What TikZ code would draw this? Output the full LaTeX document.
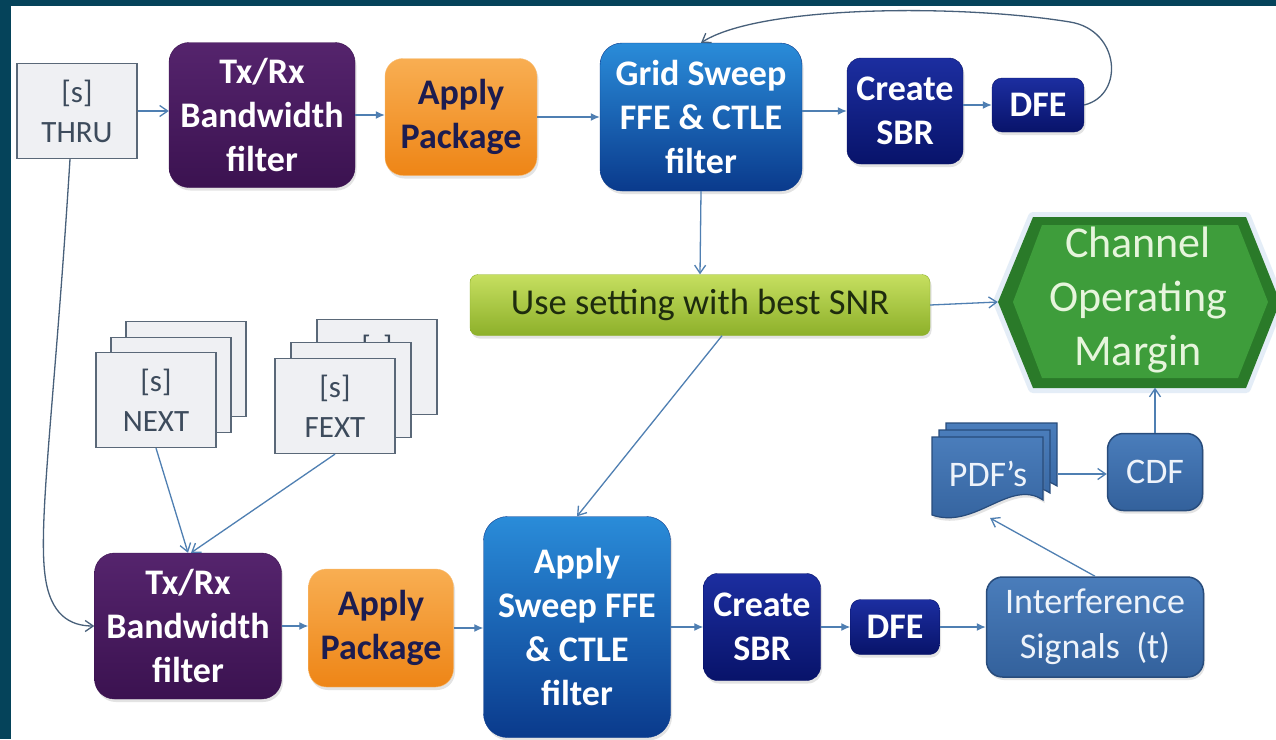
\documentclass[tikz,border=0pt]{standalone}
\usepackage{fontspec}
\setmainfont{Carlito}
\usetikzlibrary{arrows.meta,shadows,calc}

\definecolor{frameteal}{HTML}{05435A}
\definecolor{linkblue}{HTML}{4F7FB2}
\definecolor{linkdark}{HTML}{48607A}
\definecolor{purpleTop}{HTML}{55246D}
\definecolor{purpleBot}{HTML}{3B1250}
\definecolor{orangeTop}{HTML}{F8AE52}
\definecolor{orangeBot}{HTML}{EE8516}
\definecolor{pkgtext}{HTML}{1C1C50}
\definecolor{gridTop}{HTML}{2A8CD9}
\definecolor{gridBot}{HTML}{0A3A8C}
\definecolor{navyTop}{HTML}{1C2EA0}
\definecolor{navyBot}{HTML}{08136A}
\definecolor{steelTop}{HTML}{4A7DBB}
\definecolor{steelBot}{HTML}{33619C}
\definecolor{steelEdge}{HTML}{284C7C}
\definecolor{steeltext}{HTML}{EEF3FA}
\definecolor{limeTop}{HTML}{C6DF60}
\definecolor{limeBot}{HTML}{8DB02A}
\definecolor{limetext}{HTML}{1E2C0E}
\definecolor{comOuter}{HTML}{2A7A29}
\definecolor{comInner}{HTML}{3E9D3B}
\definecolor{comtext}{HTML}{E6F5DC}
\definecolor{comglow}{HTML}{C4D8EE}
\definecolor{cardfill}{HTML}{EFF0F3}
\definecolor{cardedge}{HTML}{5A6878}
\definecolor{cardtext}{HTML}{3D4B5C}

\tikzset{
  boxshadow/.style={drop shadow={shadow xshift=1.5pt,shadow yshift=-3pt,opacity=0.22}},
  blockbase/.style={align=center,inner sep=0pt,boxshadow},
  boldtext/.style={font=\fontsize{36}{44}\selectfont\bfseries},
  purplebox/.style={blockbase,boldtext,rounded corners=20pt,top color=purpleTop,bottom color=purpleBot,draw=purpleBot,text=white},
  orangebox/.style={blockbase,boldtext,rounded corners=18pt,top color=orangeTop,bottom color=orangeBot,draw=orangeTop!80!white,text=pkgtext},
  gridbox/.style={blockbase,boldtext,rounded corners=22pt,top color=gridTop,bottom color=gridBot,draw=gridBot,text=white},
  navybox/.style={blockbase,boldtext,rounded corners=14pt,top color=navyTop,bottom color=navyBot,draw=navyBot,text=white},
  steelbox/.style={blockbase,font=\fontsize{36}{45}\selectfont,rounded corners=16pt,top color=steelTop,bottom color=steelBot,draw=steelEdge,line width=1.5pt,text=steeltext},
  limebox/.style={blockbase,font=\fontsize{36.5}{42}\selectfont,rounded corners=8pt,top color=limeTop,bottom color=limeBot,draw=limeBot,text=limetext},
  cardfont/.style={text=cardtext,font=\fontsize{31}{40}\selectfont},
  card/.style={rectangle,align=center,inner sep=0pt,fill=cardfill,draw=cardedge,line width=1.2pt,cardfont,minimum width=120,minimum height=95},
  openlink/.style={draw=linkblue,line width=1.3pt,-{Straight Barb[length=8pt,width=11pt]}},
  filledlink/.style={draw=linkblue,line width=1.3pt,-{Latex[length=9pt,width=8pt]}},
  darklink/.style={draw=linkdark,line width=1.3pt,-{Straight Barb[length=8pt,width=11pt]}},
  sheet/.style={top color=steelTop,bottom color=steelBot,draw=steelEdge,line width=1.2pt}
}

\begin{document}
\begin{tikzpicture}[x=1pt,y=-1pt]
\useasboundingbox (0,0) rectangle (1276,739);
\fill[white] (0,0) rectangle (1276,739);
% window frame
\fill[frameteal] (0,0) rectangle (1276,6);
\fill[frameteal] (0,0) rectangle (11,739);

% ---------- upper chain ----------
\node[card] (thru) at (77,111) {[s]\\THRU};
\node[purplebox,minimum width=186,minimum height=145] (txrx1) at (262,115) {Tx/Rx\\Bandwidth\\filter};
\node[orangebox,minimum width=152,minimum height=117] (pkg1) at (461,117) {Apply\\Package};
\node[gridbox,minimum width=202,minimum height=148] (grid) at (701,117) {Grid Sweep\\FFE \& CTLE\\filter};
\node[navybox,minimum width=116,minimum height=106] (sbr1) at (905,111) {Create\\SBR};
\node[navybox,rounded corners=10pt,minimum width=92,minimum height=54] (dfe1) at (1038,105) {DFE};

\draw[openlink] (thru.east) -- (thru.east -| txrx1.west);
\draw[filledlink] (txrx1.east) -- (txrx1.east -| pkg1.west);
\draw[filledlink] (pkg1.east) -- (pkg1.east -| grid.west);
\draw[filledlink] (sbr1.west -| grid.east) -- (sbr1.west);
\draw[filledlink] (dfe1.west -| sbr1.east) -- (dfe1.west);
% feedback loop from DFE back to the sweep
\draw[darklink] (dfe1.east) .. controls (1125,95) and (1120,30) .. (1070,22)
  .. controls (960,4) and (760,5) .. (grid.north);

% ---------- best setting ----------
\node[limebox,minimum width=460,minimum height=61] (use) at (700,305) {Use setting with best SNR};
\draw[openlink] (grid.south) -- (use.north);

% ---------- COM hexagon ----------
\node[minimum width=280,minimum height=171,inner sep=0pt] (com) at (1138,302) {};
\path[draw=comglow,line width=10pt,opacity=0.45,line join=round]
  (998,302) -- (1033,217) -- (1246,217) -- (1280,302) -- (1246,388) -- (1033,388) -- cycle;
\path[fill=comOuter]
  (998,302) -- (1033,217) -- (1246,217) -- (1280,302) -- (1246,388) -- (1033,388) -- cycle;
\path[fill=comInner]
  (1013,302) -- (1042,225) -- (1238,225) -- (1268,302) -- (1238,378) -- (1042,378) -- cycle;
\node[align=center,text=comtext,font=\fontsize{44}{54}\selectfont] at ([yshift=2pt]com.center) {Channel\\Operating\\Margin};
\draw[openlink] (use.east) -- (com.west);

% ---------- crosstalk cards ----------
\node[card] (next3) at (186,369) {};
\node[card] (next2) at (171,385) {};
\node[card] (next) at (156,400) {[s]\\NEXT};
\node[card] (fext3) at (377,367) {};
\node[cardfont] at (377,348) {[s]};
\node[card] (fext2) at (351,390) {};
\node[card] (fext) at (335,406) {[s]\\FEXT};

% ---------- lower chain ----------
\node[purplebox,minimum width=187,minimum height=146] (txrx2) at (188,626) {Tx/Rx\\Bandwidth\\filter};
\node[orangebox,minimum width=145,minimum height=118] (pkg2) at (381,628) {Apply\\Package};
\node[gridbox,rounded corners=24pt,minimum width=187,minimum height=221] (sweep) at (577,627) {Apply\\Sweep FFE\\\& CTLE\\filter};
\node[navybox,minimum width=117,minimum height=107] (sbr2) at (762,627) {Create\\SBR};
\node[navybox,rounded corners=10pt,minimum width=89,minimum height=55] (dfe2) at (895,627) {DFE};
\node[steelbox,minimum width=217,minimum height=100] (intf) at (1095,627) {Interference\\Signals~~(t)};
\node[steelbox,minimum width=95,minimum height=77] (cdf) at (1155,472) {CDF};

% stacked PDF sheets
\path[sheet] (946,423) -- (1057,423) -- (1057,486) .. controls (1024,464) and (989,516) .. (946,501) -- cycle;
\path[sheet] (939,430) -- (1050,430) -- (1050,493) .. controls (1017,471) and (982,523) .. (939,508) -- cycle;
\path[sheet,boxshadow] (932,437) -- (1043,437) -- (1043,500) .. controls (1010,478) and (975,530) .. (932,515) -- cycle;
\node[minimum width=140,minimum height=90,inner sep=0pt,text=steeltext,font=\fontsize{36}{45}\selectfont] (pdf) at (988,474) {PDF’s};
\coordinate (pdfin) at (990,518);

\draw[darklink] ([xshift=-7pt]thru.south) .. controls (55,400) and (38,520) .. (45,575)
  .. controls (50,615) and (70,626) .. (txrx2.west);
\draw[openlink] (next.south) -- (txrx2.north);
\draw[openlink] (fext.south) -- ([xshift=3pt]txrx2.north);
\draw[openlink] ([xshift=22pt]use.south) -- (sweep.north);

\draw[filledlink] (txrx2.east) -- (txrx2.east -| pkg2.west);
\draw[filledlink] (pkg2.east) -- (pkg2.east -| sweep.west);
\draw[filledlink] (sbr2.west -| sweep.east) -- (sbr2.west);
\draw[filledlink] (dfe2.west -| sbr2.east) -- (dfe2.west);
\draw[filledlink] (dfe2.east) -- (intf.west);
\draw[openlink] (intf.north) -- (pdfin);
\draw[openlink] (pdf.east) -- (pdf.east -| cdf.west);
\draw[openlink] (cdf.north) -- (cdf.north |- com.south);
\end{tikzpicture}
\end{document}
